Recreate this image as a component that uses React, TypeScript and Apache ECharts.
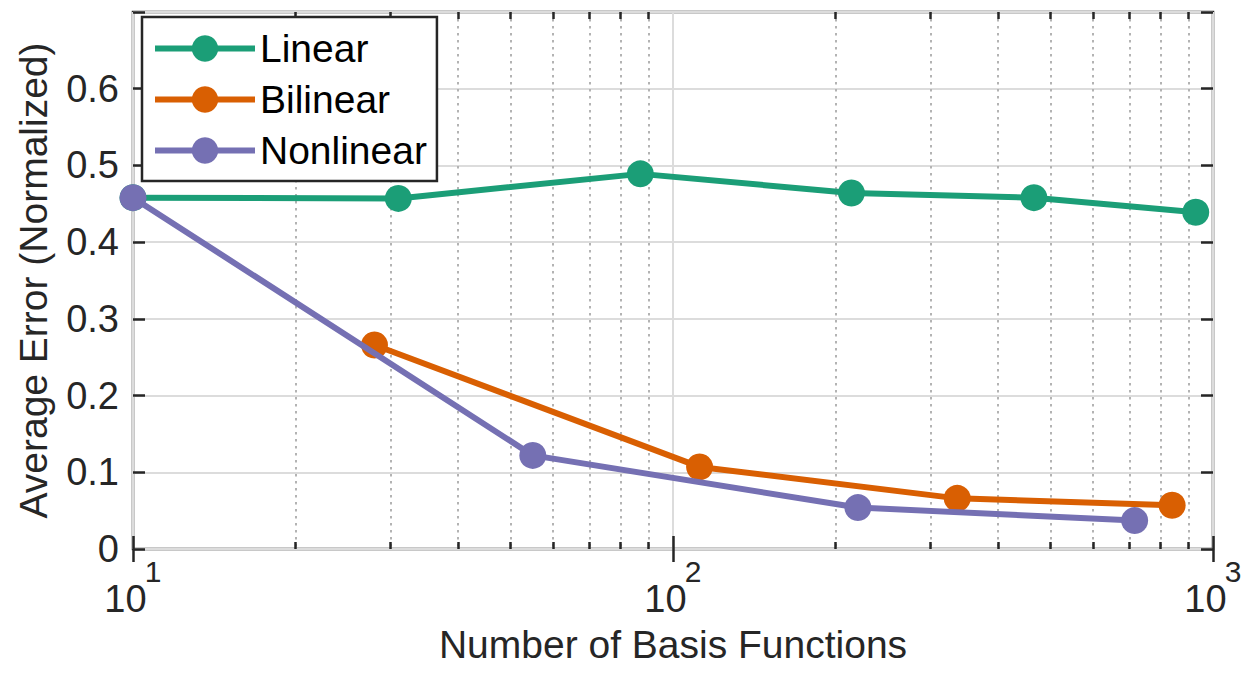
import React, { useEffect, useRef } from "react";
import * as echarts from "echarts";

const linearX = [10, 31, 87, 214, 466, 929];
const linearY = [0.458, 0.457, 0.489, 0.464, 0.458, 0.439];
const bilinearX = [28, 112, 336, 840];
const bilinearY = [0.266, 0.107, 0.066, 0.057];
const nonlinearX = [10, 55, 220, 716];
const nonlinearY = [0.458, 0.122, 0.054, 0.037];

const seriesNames = ["Linear", "Bilinear", "Nonlinear"];
const seriesColors = ["#1b9e77", "#d95f02", "#7570b3"];
const minorTickValues = [20, 30, 40, 50, 60, 70, 80, 90, 200, 300, 400, 500, 600, 700, 800, 900];

const FONT = "'Liberation Sans', Arial, Helvetica, sans-serif";
const DARK = "#262626";

export default function App() {
  const ref = useRef<HTMLDivElement>(null);
  useEffect(() => {
    if (!ref.current) return;
    const chart = echarts.init(ref.current, null, { renderer: "svg" });
    const pair = (xs: number[], ys: number[]) => xs.map((x, i) => [x, ys[i]]);
    const grid = { left: 133, right: 43, top: 12, bottom: 126, show: true, borderColor: DARK, borderWidth: 2.5, backgroundColor: "#fff" };
    const minorLog = minorTickValues.map((v) => Math.log10(v));
    const minorAxis = (position: string, withSplit: boolean) => ({
      type: "value",
      position,
      min: 1,
      max: 3,
      axisLine: { show: false },
      axisLabel: { show: false },
      axisTick: { show: true, inside: true, length: 7, customValues: minorLog, lineStyle: { color: DARK, width: 2.5 } },
      splitLine: { show: withSplit, lineStyle: { color: "#b3b3b3", width: 2, type: [2.5, 4.5] } },
    });
    const data = [pair(linearX, linearY), pair(bilinearX, bilinearY), pair(nonlinearX, nonlinearY)];
    chart.setOption({
      animation: false,
      backgroundColor: "#fff",
      grid,
      legend: {
        left: 142,
        top: 17,
        orient: "vertical",
        padding: [12, 10, 11, 10],
        itemWidth: 100,
        itemHeight: 33,
        itemGap: 12,
        itemTextGap: 10,
        backgroundColor: "#fff",
        borderColor: DARK,
        borderWidth: 2.5,
        borderRadius: 0,
        lineStyle: { width: 6 },
        textStyle: { fontFamily: FONT, fontSize: 39, color: "#000", lineHeight: 33 },
        data: seriesNames,
      },
      xAxis: [
        {
          type: "log",
          logBase: 10,
          min: 10,
          max: 1000,
          position: "bottom",
          name: "Number of Basis Functions",
          nameLocation: "middle",
          nameGap: 76,
          nameTextStyle: { fontFamily: FONT, fontSize: 39, color: DARK },
          axisLine: { show: false },
          axisTick: { show: true, inside: true, length: 13, lineStyle: { color: DARK, width: 2.5 } },
          splitLine: { show: true, lineStyle: { color: "#dcdcdc", width: 2 } },
          axisLabel: {
            margin: 9,
            align: "center",
            formatter: (v: number) => `{s|${Math.round(Math.log10(v))}}\n{b|10}`,
            rich: {
              b: { fontFamily: FONT, fontSize: 38, color: DARK, lineHeight: 30, padding: [0, 15, 0, 0] },
              s: { fontFamily: FONT, fontSize: 30, color: DARK, lineHeight: 26, padding: [0, 0, 0, 40] },
            },
          },
        },
        {
          type: "log",
          logBase: 10,
          min: 10,
          max: 1000,
          position: "top",
          axisLine: { show: false },
          axisLabel: { show: false },
          axisTick: { show: true, inside: true, length: 13, lineStyle: { color: DARK, width: 2.5 } },
          splitLine: { show: false },
        },
        minorAxis("bottom", true),
        minorAxis("top", false),
      ],
      yAxis: [
        {
          type: "value",
          min: 0,
          max: 0.7,
          interval: 0.1,
          position: "left",
          name: "Average Error (Normalized)",
          nameLocation: "middle",
          nameGap: 80,
          nameTextStyle: { fontFamily: FONT, fontSize: 39, color: DARK },
          axisLine: { show: false },
          axisTick: { show: true, inside: true, length: 12, lineStyle: { color: DARK, width: 2.5 } },
          splitLine: { show: true, lineStyle: { color: "#dcdcdc", width: 2 } },
          axisLabel: {
            margin: 14,
            fontFamily: FONT,
            fontSize: 38,
            color: DARK,
            formatter: (v: number) => (v > 0.65 ? "" : v === 0 ? "0" : v.toFixed(1)),
          },
        },
        {
          type: "value",
          min: 0,
          max: 0.7,
          interval: 0.1,
          position: "right",
          axisLine: { show: false },
          axisLabel: { show: false },
          axisTick: { show: true, inside: true, length: 12, lineStyle: { color: DARK, width: 2.5 } },
          splitLine: { show: false },
        },
      ],
      series: seriesNames.map((name, i) => ({
        name,
        type: "line",
        xAxisIndex: 0,
        yAxisIndex: 0,
        data: data[i],
        symbol: "circle",
        symbolSize: 27,
        color: seriesColors[i],
        lineStyle: { width: 6, color: seriesColors[i] },
        itemStyle: { color: seriesColors[i] },
        z: 3 + i,
      })),
    });
    return () => chart.dispose();
  }, []);
  return <div ref={ref} style={{ width: 1256, height: 675, position: "absolute", left: 0, top: 0 }} />;
}
